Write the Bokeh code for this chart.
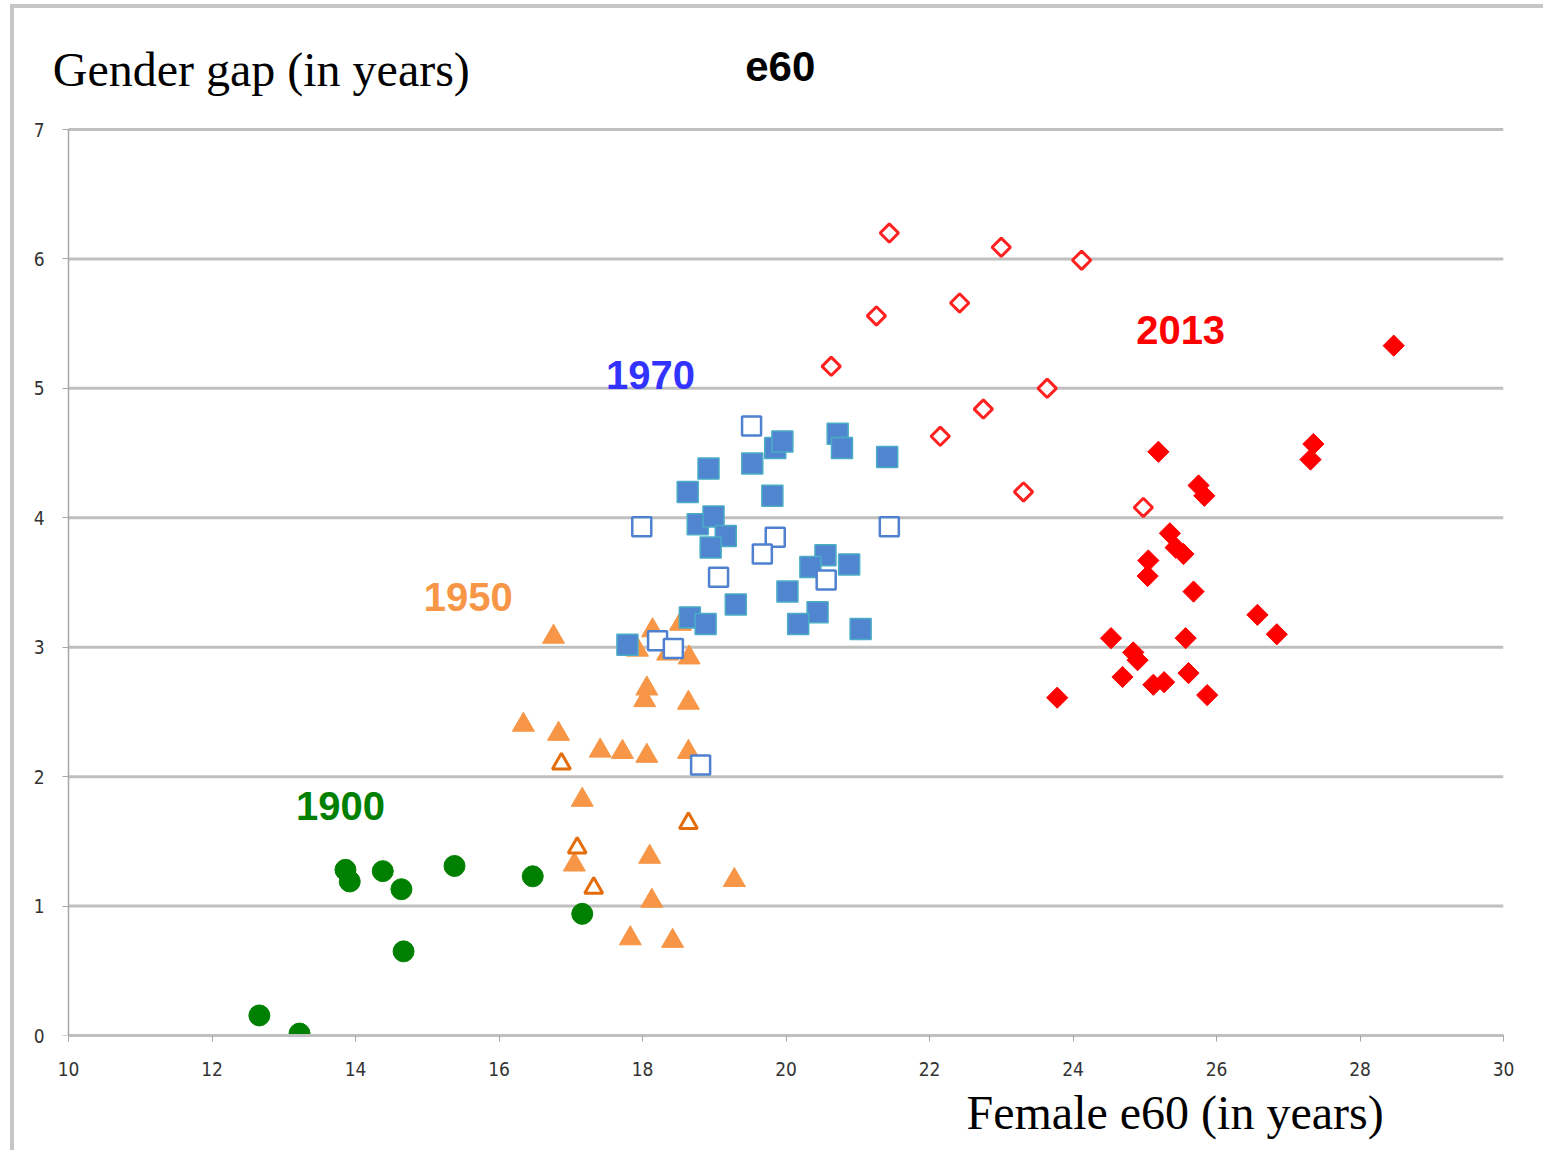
import math
from bokeh.plotting import figure
from bokeh.models import Label, FixedTicker, Range1d, Title, LinearAxis, CustomLabelingPolicy
from bokeh.embed import file_html
from bokeh.resources import INLINE

# 1900 (green circles)
x1900 = [12.66, 13.22, 13.86, 13.92, 14.38, 14.64, 14.67, 15.38, 16.47, 17.16]
y1900 = [0.155, 0.015, 1.28, 1.19, 1.27, 1.13, 0.65, 1.31, 1.23, 0.94]

# 1950 filled triangles
x1950 = [16.76, 16.34, 16.83, 17.41, 17.72, 18.06, 18.64, 17.16, 17.05, 18.10, 18.13,
         17.83, 18.42, 19.28, 18.64, 18.06, 18.03, 18.65, 18.14, 18.53, 17.93, 18.35]
y1950 = [3.08, 2.40, 2.33, 2.20, 2.19, 2.16, 2.19, 1.82, 1.32, 1.38, 1.04,
         0.75, 0.73, 1.20, 2.57, 2.68, 2.59, 2.92, 3.13, 3.18, 2.98, 2.95]
# 1950 open triangles
x1950o = [16.87, 17.09, 17.32, 18.64]
y1950o = [2.10, 1.45, 1.14, 1.64]

# 1970 filled squares
x1970 = [18.92, 18.63, 19.53, 19.85, 19.95, 20.72, 20.78, 21.41, 19.81, 18.77, 18.99, 19.16,
         18.95, 20.55, 20.34, 20.88, 20.02, 19.30, 20.44, 20.17, 21.04, 18.66, 18.88, 17.79]
y1970 = [4.38, 4.20, 4.42, 4.54, 4.59, 4.65, 4.54, 4.47, 4.17, 3.95, 4.01, 3.86,
         3.77, 3.71, 3.62, 3.64, 3.43, 3.33, 3.27, 3.18, 3.14, 3.23, 3.18, 3.02]
# 1970 open squares
x1970o = [19.52, 17.99, 21.44, 19.85, 19.67, 19.06, 20.56, 18.81, 18.21, 18.43]
y1970o = [4.71, 3.93, 3.93, 3.85, 3.72, 3.54, 3.52, 2.09, 3.05, 2.99]

# 2013 filled diamonds
x2013 = [25.19, 27.35, 27.31, 25.75, 25.83, 25.35, 25.43, 25.54, 25.05, 25.04, 25.68, 26.57,
         26.84, 24.53, 25.57, 24.84, 24.90, 24.69, 25.12, 25.27, 25.61, 25.87, 23.78, 28.47]
y2013 = [4.51, 4.57, 4.45, 4.25, 4.17, 3.88, 3.77, 3.72, 3.67, 3.55, 3.43, 3.25,
         3.10, 3.07, 3.07, 2.96, 2.90, 2.77, 2.71, 2.73, 2.80, 2.63, 2.61, 5.33]
# 2013 open diamonds
x2013o = [21.44, 23.00, 24.12, 21.26, 22.42, 20.63, 23.64, 22.75, 22.15, 23.31, 24.98]
y2013o = [6.20, 6.09, 5.99, 5.56, 5.66, 5.17, 5.00, 4.84, 4.63, 4.20, 4.08]

x_ticks = [10, 12, 14, 16, 18, 20, 22, 24, 26, 28, 30]
y_ticks = [0, 1, 2, 3, 4, 5, 6, 7]
x_min, x_max = 10, 30

p = figure(width=1533, height=1146, output_backend="svg", toolbar_location=None,
           x_range=Range1d(9.7491, 30), y_range=Range1d(0, 7.7496),
           min_border_left=36, min_border_right=44, min_border_top=24, min_border_bottom=119,
           background_fill_color="white", border_fill_color="white",
           styles={"margin-left": "10px", "margin-top": "4px",
                   "border-left": "4px solid #c6c6c6", "border-top": "4px solid #c6c6c6"})
p.outline_line_color = None
p.xgrid.visible = False
p.ygrid.visible = False

# horizontal gridlines spanning the x-axis extent only
p.segment(x0=[x_min] * len(y_ticks), y0=y_ticks, x1=[x_max] * len(y_ticks), y1=y_ticks,
          line_color="#bfbfbf", line_width=3)

tick_font = "'Liberation Sans Narrow', 'DejaVu Sans Condensed', sans-serif"
for ax in (p.xaxis[0], p.yaxis[0]):
    ax.axis_line_color = "#a6a6a6"
    ax.major_tick_line_color = "#a6a6a6"
    ax.minor_tick_line_color = None
    ax.major_tick_in = 0
    ax.major_tick_out = 6
    ax.major_label_text_font = tick_font
    ax.major_label_text_font_size = "19px"
    ax.major_label_text_color = "#333333"
p.xaxis[0].ticker = FixedTicker(ticks=x_ticks)
p.xaxis[0].bounds = (x_min, x_max)
p.xaxis[0].axis_line_width = 3
p.xaxis[0].axis_line_color = "#bfbfbf"
p.xaxis[0].major_label_standoff = 20

# left axis: labels only (sits at frame edge)
ya = p.yaxis[0]
ya.ticker = FixedTicker(ticks=y_ticks)
ya.axis_line_color = None
ya.major_tick_line_color = None
ya.major_tick_out = 0
ya.major_label_standoff = 6

# second y axis at x=10: line and ticks only (labels filtered out)
yb = LinearAxis(fixed_location=x_min, bounds=(0, 7), ticker=FixedTicker(ticks=y_ticks),
                axis_line_color="#a6a6a6", axis_line_width=1.5,
                major_tick_line_color="#a6a6a6", major_tick_in=0, major_tick_out=6,
                minor_tick_line_color=None, major_label_standoff=0,
                major_label_policy=CustomLabelingPolicy(code="return []"))
p.add_layout(yb, "left")

# markers
p.scatter(x1900, y1900, marker="circle", size=21, fill_color="#008000", line_color="#008000")
p.scatter(x1950, y1950, marker="triangle", size=22, fill_color="#f79646", line_color="#f79646")
p.scatter(x1950o, y1950o, marker="triangle", size=18, fill_color="white", line_color="#e46c0a", line_width=3)
p.scatter(x1970, y1970, marker="square", size=21, fill_color="#4f86cf", line_color="#4bacc6", line_width=1.5)
p.scatter(x1970o, y1970o, marker="square", size=19, fill_color="white", line_color="#4f81d0", line_width=2.5)
p.scatter(x2013, y2013, marker="square", angle=math.pi / 4, size=15, fill_color="#ff0000", line_color="#ff0000")
p.scatter(x2013o, y2013o, marker="square", angle=math.pi / 4, size=13, fill_color="white",
          line_color="#ff2020", line_width=3)

serif = "'Liberation Serif', 'DejaVu Serif', serif"
sans = "'Liberation Sans', Arial, sans-serif"

p.add_layout(Label(x=9.78, y=7.46, text="Gender gap (in years)", text_font=serif,
                   text_font_size="48px", text_color="black", text_align="left",
                   text_baseline="middle"))
p.add_layout(Label(x=19.92, y=7.49, text="e60", text_font=sans, text_font_style="bold",
                   text_font_size="42px", text_color="black", text_align="center",
                   text_baseline="middle"))
p.add_layout(Title(text="Female e60 (in years)", text_font=serif, text_font_size="48px",
                   text_font_style="normal", text_color="black", align="left", offset=916),
             "below")

for txt, lx, ly, col in [("1970", 18.11, 5.10, "#3333ff"), ("1950", 15.57, 3.385, "#f79646"),
                         ("1900", 13.79, 1.777, "#008000"), ("2013", 25.50, 5.45, "#ff0000")]:
    p.add_layout(Label(x=lx, y=ly, text=txt, text_font=sans, text_font_style="bold",
                       text_font_size="40px", text_color=col, text_align="center",
                       text_baseline="middle"))

open("out.html", "w").write(file_html(p, INLINE))
